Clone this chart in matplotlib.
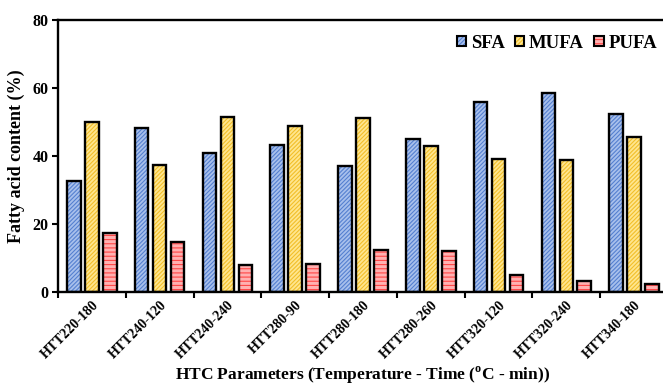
import matplotlib.pyplot as plt
import numpy as np

plt.rcParams['font.family'] = 'Liberation Serif'
plt.rcParams['font.weight'] = 'bold'
plt.rcParams['mathtext.fontset'] = 'custom'
plt.rcParams['mathtext.rm'] = 'Liberation Serif:bold'
plt.rcParams['mathtext.bf'] = 'Liberation Serif:bold'
plt.rcParams['hatch.linewidth'] = 0.8

# HTC conditions (temperature - time)
conditions = ['HTT220-180', 'HTT240-120', 'HTT240-240', 'HTT280-90', 'HTT280-180',
              'HTT280-260', 'HTT320-120', 'HTT320-240', 'HTT340-180']

# fatty acid composition (%)
sfa = [32.7, 48.3, 41.0, 43.3, 37.0, 45.0, 56.0, 58.4, 52.5]
mufa = [50.1, 37.3, 51.5, 48.7, 51.1, 43.0, 39.0, 38.7, 45.5]
pufa = [17.5, 14.6, 7.8, 8.1, 12.3, 12.1, 5.1, 3.2, 2.3]

series = [
    ('SFA', sfa, '#a8c0ec', '#5580d0', '////////'),
    ('MUFA', mufa, '#ffe68f', '#f2bf2a', '////////'),
    ('PUFA', pufa, '#ffb0b0', '#ff4646', '----'),
]

fig = plt.figure(figsize=(6.63, 3.86), dpi=100)
ax = fig.add_axes([0.0875, 0.2435, 0.92, 0.7045])

x = np.arange(len(conditions))
width = 0.2
offsets = [-0.265, 0.0, 0.265]

handles = []
for (name, vals, face, hatch_col, hatch), off in zip(series, offsets):
    # hatched fill first, black outline drawn on top
    ax.bar(x + off, vals, width, color=face, edgecolor=hatch_col, hatch=hatch,
           linewidth=0, zorder=2)
    ax.bar(x + off, vals, width, fill=False, edgecolor='black', linewidth=1.7, zorder=3)
    h = plt.Rectangle((0, 0), 1, 1, facecolor=face, edgecolor=hatch_col, hatch=hatch,
                      linewidth=0)
    hb = plt.Rectangle((0, 0), 1, 1, fill=False, edgecolor='black', linewidth=1.5)
    handles.append((h, hb))

ax.set_xlim(-0.5, len(conditions) - 0.5)
ax.set_ylim(0, 80)
ax.set_yticks([0, 20, 40, 60, 80])
ax.tick_params(axis='y', labelsize=11.5, width=1.5, length=4, direction='out', pad=3)

ax.set_xticks(np.arange(len(conditions) + 1) - 0.5, minor=False)
ax.set_xticklabels([])
ax.set_xticks(x, minor=True)
ax.set_xticklabels(conditions, minor=True, rotation=45, ha='right',
                   rotation_mode='anchor', fontsize=10)
ax.tick_params(axis='x', which='major', width=1.5, length=4, direction='out')
ax.tick_params(axis='x', which='minor', length=0, pad=5)

for side in ['left', 'bottom', 'top']:
    ax.spines[side].set_linewidth(1.7)
ax.spines['right'].set_visible(False)

ax.set_ylabel('Fatty acid content (%)', fontsize=13, fontweight='bold', labelpad=5)
ax.set_xlabel(r'HTC Parameters (Temperature - Time ($^{\mathrm{o}}$C - min))',
              fontsize=12.5, fontweight='bold')
ax.xaxis.set_label_coords(0.5, -0.266)

ax.legend(handles, [s[0] for s in series], ncol=3, loc='center right',
          bbox_to_anchor=(0.982, 0.915), frameon=False, fontsize=13.5,
          handlelength=0.5, handleheight=0.5, handletextpad=0.25, columnspacing=0.55,
          borderaxespad=0, borderpad=0)

fig.savefig('out.png', dpi=100)
